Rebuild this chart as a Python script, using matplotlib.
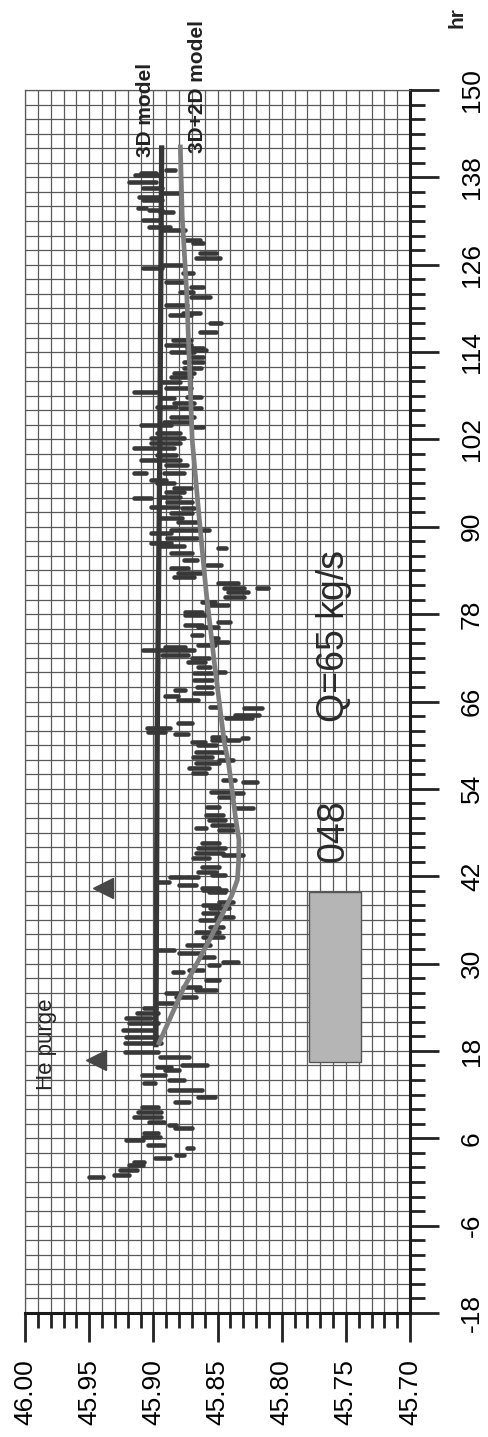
import matplotlib
matplotlib.use("Agg")
import matplotlib.pyplot as plt
from matplotlib.patches import Rectangle
from matplotlib.ticker import MultipleLocator, FixedLocator

plt.rcParams['font.family'] = ['Liberation Sans', 'DejaVu Sans']

# ---------------- data ----------------
hour_ticks = [-18, -6, 6, 18, 30, 42, 54, 66, 78, 90, 102, 114, 126, 138, 150]
level_ticks = [45.70, 45.75, 45.80, 45.85, 45.90, 45.95, 46.00]

# measured level: short vertical strokes (time, upper value, lower value)
seg_hours = [0.7, 1.0, 1.6, 2.3, 2.7, 3.3, 3.7, 4.7, 5.1, 5.8, 6.2, 6.7, 7.4, 7.8, 8.2, 8.9, 9.6, 10.3, 11.0, 11.7,
             12.6, 13.6, 14.0, 14.7, 15.4, 15.8, 16.1, 17.2, 17.9, 19.1,
             19.9, 20.9, 21.8, 22.5, 23.2, 23.9, 24.6, 25.4, 26.0, 26.4, 26.8, 27.7, 28.8, 29.1, 29.8, 30.2, 30.9,
             31.5, 31.9, 32.5, 33.6, 34.3, 35.0, 36.0, 36.4, 36.9, 37.6, 38.0, 38.5, 40.1,
             39.8, 40.4, 40.8, 41.2, 41.9, 41.9, 42.2, 42.6, 43.3, 44.5, 44.9, 45.2, 45.9, 46.6, 48.3, 48.6, 49.0,
             49.7, 50.4, 51.4, 51.5, 52.9, 53.4, 53.6, 54.9, 55.2, 56.2, 56.9, 57.5, 58.0, 58.4, 59.1, 60.0, 60.7,
             60.4, 61.0, 61.1, 61.5, 61.8, 62.4, 63.0, 63.7, 64.1, 65.1, 65.2, 66.2, 66.8, 67.2, 67.6, 68.0, 69.0,
             69.9, 70.0, 70.7, 71.4, 72.0, 72.4, 73.1, 73.5, 73.8, 74.2, 74.7, 75.1, 76.2, 76.5, 76.9, 77.9, 78.3,
             79.3, 79.7, 80.4, 81.0,
             81.6, 81.6, 82.3, 83.1, 83.6, 84.3, 84.7, 85.4, 86.4, 87.1, 87.4, 87.8, 88.5, 89.1, 89.6, 89.6, 90.7,
             91.2, 91.9, 92.6, 92.7, 93.4, 94.0, 94.1, 94.8, 95.3, 96.0, 96.4, 97.4, 97.4, 98.5, 99.2, 99.9, 100.8, 101.5,
             102.2, 102.9, 103.7, 104.0, 104.4, 105.1, 106.3, 106.4, 107.0, 107.7, 107.8, 108.5, 109.1, 109.9, 110.6,
             111.1, 111.8, 112.6, 113.3, 114.0, 114.3, 114.6, 115.0, 115.7, 116.8, 118.0, 119.1, 119.4, 120.5, 121.6, 122.2,
             122.9, 123.6, 124.9, 125.5, 126.0, 126.9, 127.6, 129.0, 129.4, 130.8, 131.2, 132.1, 133.2, 133.5, 133.8,
             134.9, 135.3, 135.8, 136.5, 137.4, 138.3, 138.6, 139.0]
seg_high = [45.950, 45.931, 45.926, 45.919, 45.915, 45.899, 45.882, 45.874, 45.904, 45.921, 45.908, 45.907, 45.883,
            45.888, 45.903, 45.915, 45.912, 45.909, 45.883, 45.865, 45.888, 45.907, 45.888, 45.909, 45.891, 45.897,
            45.878, 45.895, 45.922, 45.922,
            45.921, 45.924, 45.919, 45.921, 45.913, 45.907, 45.898, 45.882, 45.890, 45.867, 45.877, 45.859, 45.885,
            45.872, 45.857, 45.846, 45.864, 45.880, 45.896, 45.874, 45.861, 45.867, 45.856, 45.864, 45.851, 45.861,
            45.856, 45.861, 45.849, 45.861,
            45.857, 45.862, 45.880, 45.897, 45.887, 45.875, 45.854, 45.865, 45.862, 45.869, 45.846, 45.867, 45.865,
            45.862, 45.849, 45.867, 45.854, 45.857, 45.859, 45.836, 45.858, 45.849, 45.838, 45.855, 45.830, 45.846,
            45.869, 45.872, 45.867, 45.849, 45.869, 45.867, 45.865, 45.854,
            45.870, 45.831, 45.854, 45.883, 45.904, 45.905, 45.881, 45.843, 45.836, 45.829, 45.856, 45.881, 45.891,
            45.868, 45.883, 45.866, 45.868, 45.868, 45.850, 45.865, 45.873, 45.870, 45.893, 45.908, 45.891, 45.865,
            45.854, 45.854, 45.870, 45.865, 45.875, 45.850, 45.875, 45.875, 45.857, 45.862, 45.844, 45.842,
            45.845, 45.819, 45.850, 45.884, 45.881, 45.886, 45.858, 45.876, 45.886, 45.850, 45.894, 45.902, 45.889,
            45.902, 45.886, 45.862, 45.881, 45.894, 45.886, 45.878, 45.902, 45.889, 45.915, 45.894, 45.890, 45.884,
            45.897, 45.902, 45.915, 45.892, 45.890, 45.910, 45.897, 45.915, 45.902,
            45.902, 45.897, 45.868, 45.910, 45.892, 45.886, 45.879, 45.897, 45.884, 45.894, 45.874, 45.915, 45.890,
            45.894, 45.886, 45.884, 45.876, 45.876, 45.871, 45.886, 45.869, 45.874, 45.890, 45.885, 45.864, 45.856,
            45.887, 45.877, 45.890, 45.871, 45.879,
            45.871, 45.890, 45.877, 45.908, 45.893, 45.867, 45.864, 45.869, 45.875, 45.893, 45.903, 45.908, 45.895,
            45.903, 45.912, 45.908, 45.911, 45.893, 45.908, 45.919, 45.914, 45.910, 45.890]
seg_low = [45.939, 45.919, 45.913, 45.908, 45.907, 45.887, 45.876, 45.869, 45.892, 45.908, 45.895, 45.896, 45.870,
           45.882, 45.892, 45.894, 45.894, 45.896, 45.872, 45.852, 45.862, 45.899, 45.876, 45.891, 45.880, 45.886,
           45.858, 45.872, 45.896, 45.894,
           45.896, 45.900, 45.896, 45.902, 45.896, 45.898, 45.885, 45.867, 45.880, 45.851, 45.864, 45.849, 45.877,
           45.861, 45.849, 45.834, 45.853, 45.864, 45.884, 45.856, 45.846, 45.849, 45.846, 45.849, 45.838, 45.849,
           45.841, 45.849, 45.838, 45.843,
           45.844, 45.849, 45.867, 45.888, 45.877, 45.865, 45.844, 45.851, 45.849, 45.857, 45.830, 45.846, 45.844,
           45.849, 45.838, 45.859, 45.838, 45.844, 45.846, 45.822, 45.849, 45.838, 45.830, 45.841, 45.819, 45.836,
           45.859, 45.857, 45.849, 45.838, 45.854, 45.844, 45.851, 45.833,
           45.860, 45.826, 45.844, 45.873, 45.891, 45.887, 45.870, 45.823, 45.818, 45.815, 45.850, 45.865, 45.881,
           45.854, 45.875, 45.854, 45.854, 45.854, 45.844, 45.856, 45.860, 45.857, 45.873, 45.868, 45.875, 45.852,
           45.842, 45.850, 45.862, 45.850, 45.862, 45.840, 45.860, 45.862, 45.842, 45.852, 45.829, 45.826,
           45.829, 45.811, 45.834, 45.868, 45.863, 45.873, 45.847, 45.866, 45.870, 45.843, 45.876, 45.886, 45.866,
           45.886, 45.866, 45.857, 45.866, 45.878, 45.870, 45.868, 45.881, 45.870, 45.902, 45.879, 45.876, 45.871,
           45.884, 45.890, 45.906, 45.876, 45.874, 45.879, 45.882, 45.884, 45.879,
           45.876, 45.879, 45.861, 45.886, 45.871, 45.868, 45.863, 45.882, 45.868, 45.884, 45.863, 45.897, 45.871,
           45.879, 45.871, 45.868, 45.863, 45.861, 45.861, 45.868, 45.859, 45.861, 45.871, 45.871, 45.851, 45.847,
           45.871, 45.864, 45.874, 45.856, 45.869,
           45.861, 45.877, 45.869, 45.893, 45.877, 45.848, 45.851, 45.861, 45.864, 45.875, 45.887, 45.895, 45.885,
           45.893, 45.906, 45.893, 45.895, 45.880, 45.893, 45.898, 45.895, 45.898, 45.883]

# model curves
model3d_hours = [18.5, 60.0, 100.0, 142.4]
model3d_level = [45.898, 45.897, 45.895, 45.8935]
model2d_hours = [18.8, 26.4, 33.2, 39.4, 41.5, 44.2, 47.0, 50.1, 53.8, 57.5, 60.5, 70.7, 81.0, 91.3, 101.9,
                 111.9, 122.5, 132.6, 142.5]
model2d_level = [45.8963, 45.8770, 45.8564, 45.8388, 45.8345, 45.8335, 45.8333, 45.8360, 45.8386, 45.8414,
                 45.8448, 45.8520, 45.8588, 45.8643, 45.8697, 45.8718, 45.8741, 45.8775, 45.8790]

purge_hours = [16.75, 40.4]
purge_level = [45.945, 45.9395]

box_hours = (16.5, 39.8)
box_level = (45.738, 45.779)

# ---------------- figure ----------------
fig = plt.figure(figsize=(4.89, 14.37), dpi=100)
W, H = 489.0, 1437.0
ax = fig.add_axes([25 / W, 124 / H, 385 / W, 1223 / H])
ax.set_xlim(46.00, 45.70)
ax.set_ylim(-18, 150)

grid_c = '#5a5a5a'
ax.xaxis.set_major_locator(FixedLocator(level_ticks))
ax.xaxis.set_minor_locator(MultipleLocator(0.01))
ax.yaxis.set_major_locator(FixedLocator(hour_ticks))
ax.yaxis.set_minor_locator(MultipleLocator(2))
ax.yaxis.tick_right()
ax.grid(True, which='both', color=grid_c, lw=0.9)
ax.set_axisbelow(True)

ax.set_xticklabels(['%.2f' % v for v in level_ticks])
ax.set_yticklabels([str(v) for v in hour_ticks])

ax.tick_params(axis='x', which='major', direction='out', length=21, width=2.0, color='#222222',
               labelsize=19, pad=12, labelrotation=90)
ax.tick_params(axis='x', which='minor', direction='out', length=11, width=2.0, color='#222222')
ax.tick_params(axis='y', which='major', direction='out', length=21, width=2.0, color='#222222',
               labelsize=19, pad=15, labelrotation=90, right=True, left=False)
ax.tick_params(axis='y', which='minor', direction='out', length=11, width=2.0, color='#222222',
               right=True, left=False)
for lab in ax.get_yticklabels():
    lab.set_verticalalignment('center')

for s in ['bottom', 'right']:
    ax.spines[s].set_linewidth(2.2)
    ax.spines[s].set_color('#1a1a1a')
for s in ['left', 'top']:
    ax.spines[s].set_linewidth(0.9)
    ax.spines[s].set_color(grid_c)

# measured strokes
n = min(len(seg_hours), len(seg_high), len(seg_low))
lc = ax.hlines(seg_hours[:n], seg_high[:n], seg_low[:n], colors='#383838', linewidth=3.3, zorder=3)
lc.set_capstyle('round')

# model lines
ax.plot(model3d_level, model3d_hours, color='#363636', lw=3.8, zorder=4, solid_capstyle='butt')
ax.plot(model2d_level, model2d_hours, color='#7e7e7e', lw=3.4, zorder=4, solid_capstyle='butt')

# He purge markers
ax.plot(purge_level, purge_hours, linestyle='none', marker='<', markersize=15, color='#474747', zorder=5)

# gray box
ax.add_patch(Rectangle((box_level[0], box_hours[0]), box_level[1] - box_level[0], box_hours[1] - box_hours[0],
                       facecolor='#b5b5b5', edgecolor='#555555', lw=1.0, zorder=3))

# texts
ax.text(45.9836, 12.6, 'He purge', rotation=90, ha='center', va='bottom', fontsize=16, color='#222222')
ax.text(45.906, 140.8, '3D model', rotation=90, ha='center', va='bottom', fontsize=15,
        fontweight='bold', color='#222222', clip_on=False)
ax.text(45.8657, 141.3, '3D+2D model', rotation=90, ha='center', va='bottom', fontsize=15,
        fontweight='bold', color='#222222', clip_on=False)
ax.text(45.7595, 43.9, '048', rotation=90, ha='center', va='bottom', fontsize=27, color='#2a2a2a')
ax.text(45.7595, 63.2, 'Q=65 kg/s', rotation=90, ha='center', va='bottom', fontsize=27, color='#2a2a2a')
fig.text(457 / W, 1 - 18 / H, 'hr', rotation=90, ha='center', va='center', fontsize=15,
         fontweight='bold', color='#222222')

fig.savefig('out.png', dpi=100)
